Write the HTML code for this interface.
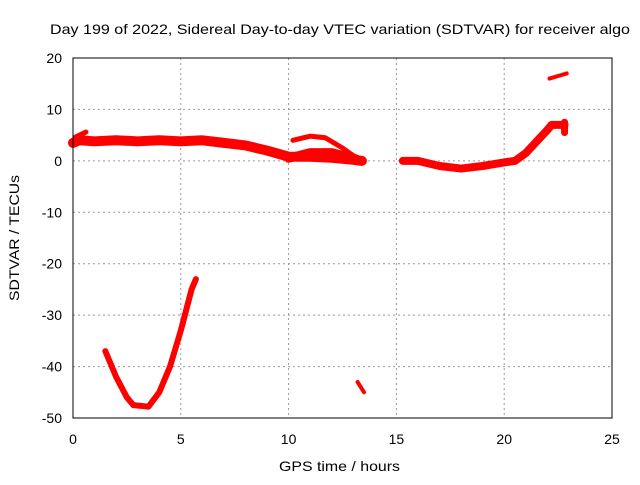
<!DOCTYPE html>
<html><head><meta charset="utf-8"><style>
body{margin:0;background:#fff;font-family:"Liberation Sans",sans-serif}
svg text{font-family:"Liberation Sans",sans-serif;font-size:14px;fill:#000}
</style></head><body>
<svg width="640" height="480" id="c">
<text x="50" y="34" textLength="580" lengthAdjust="spacingAndGlyphs">Day 199 of 2022, Sidereal Day-to-day VTEC variation (SDTVAR) for receiver algo</text>
<text x="279" y="471" textLength="121" lengthAdjust="spacingAndGlyphs">GPS time / hours</text>
<text x="19" y="238" text-anchor="middle" textLength="126" lengthAdjust="spacingAndGlyphs" transform="rotate(-90 19 238)">SDTVAR / TECUs</text>
<g id="grid"></g><g id="series"></g>
<rect x="73" y="58" width="539" height="360" fill="none" stroke="#000" stroke-width="1"/>
</svg>
<script>
const xTicks=[0,5,10,15,20,25];
const yTicks=[20,10,0,-10,-20,-30,-40,-50];
const mainT=[0,0.3,1,2,3,4,5,6,7,8,9,10,11,12,13,13.4];
const mainV=[3.5,4,3.8,4,3.8,4,3.8,4,3.5,3,2,0.8,0.8,0.6,0.2,0];
const blipT=[0.1,0.6];const blipV=[4.6,5.6];
const arcT=[10.2,11,11.7,12.5,13,13.4];const arcV=[4,4.8,4.5,2.5,1,0.3];
const lowT=[10,11,12,13];const lowV=[0.5,1.6,1.6,0.5];
const lateT=[15.3,16,17,18,19,20,20.5,21,22,22.2,22.8];
const lateV=[0,0,-1,-1.5,-1,-0.3,0,1.5,6,7,7];
const endT=[22.8,22.8];const endV=[5.5,7.5];
const highT=[22.1,22.5,22.9];const highV=[16,16.5,17];
const vT=[1.5,2,2.5,2.8,3.5,4,4.5,5,5.5,5.7];
const vV=[-37,-42,-46,-47.5,-47.8,-45,-40,-33,-25,-23];
const smallT=[13.2,13.5];const smallV=[-43,-45];
const X=t=>73+t*(539/25), Y=v=>58+(20-v)*(360/70);
const ns='http://www.w3.org/2000/svg', svg=document.getElementById('c');
const g=document.getElementById('grid'), s=document.getElementById('series');
function mk(tag,a,p){const e=document.createElementNS(ns,tag);for(const k in a)e.setAttribute(k,a[k]);p.appendChild(e);return e;}
xTicks.forEach(t=>{
 const l=mk('line',{x1:X(t),x2:X(t),y1:58,y2:418,stroke:'#999','stroke-dasharray':'2,3'},g);
 
 
 const tx=mk('text',{x:X(t),y:444,'text-anchor':'middle'},svg);tx.textContent=t;
 
 
});
yTicks.forEach(v=>{
 const l=mk('line',{x1:73,x2:612,y1:Y(v),y2:Y(v),stroke:'#999','stroke-dasharray':'2,3'},g);
 
 
 const tx=mk('text',{x:62,y:Y(v)+5,'text-anchor':'end'},svg);tx.textContent=v;
 
 
});
function series(T,V,w,name){
 const p=mk('polyline',{points:T.map((t,i)=>X(t)+','+Y(V[i])).join(' '),fill:'none',stroke:'#f00','stroke-width':w,'stroke-linecap':'round','stroke-linejoin':'round'},s);
 
 
}
series(mainT,mainV,10,'series-main-band');
series(blipT,blipV,5,'series-start-blip');
series(arcT,arcV,5,'series-upper-arc');
series(lowT,lowV,9,'series-lower-band');
series(lateT,lateV,8,'series-late-band');
series(endT,endV,7,'series-end-blotch');
series(highT,highV,4,'series-high-segment');
series(vT,vV,6,'series-v-dip');
series(smallT,smallV,4,'series-small-segment');
</script>
</body></html>
